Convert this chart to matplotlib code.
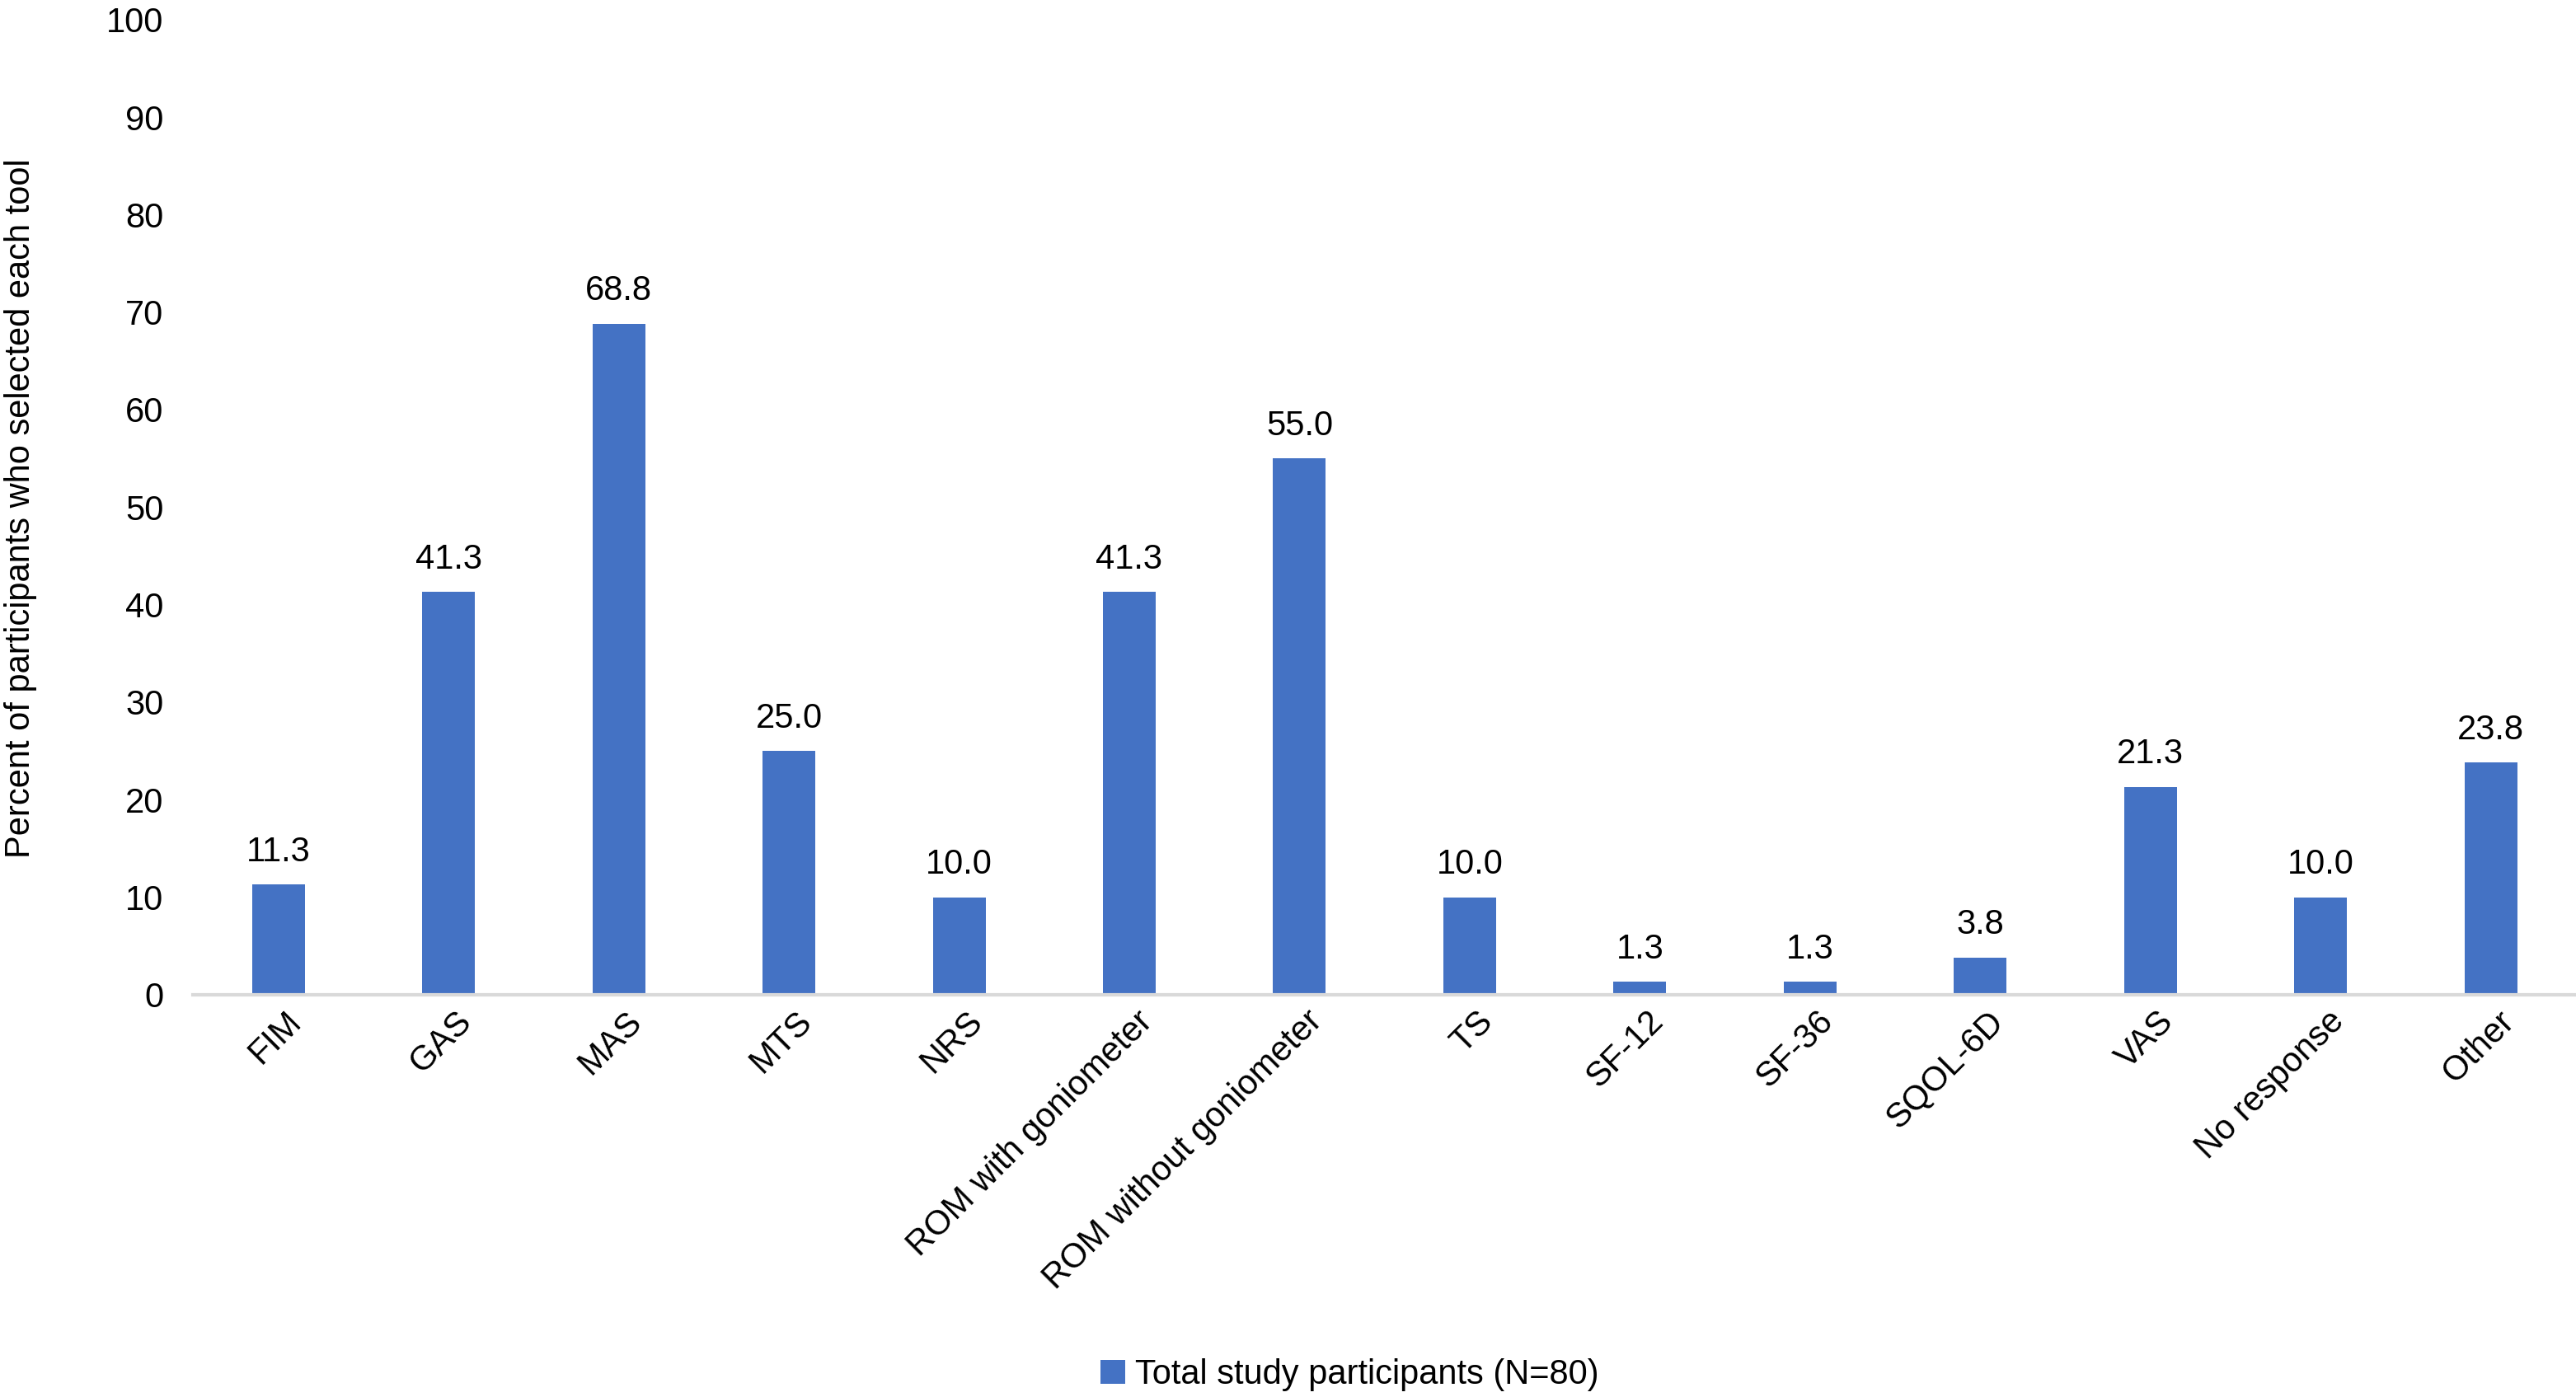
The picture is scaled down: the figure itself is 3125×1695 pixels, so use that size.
import numpy as np
import matplotlib
matplotlib.use('Agg')
import matplotlib.pyplot as plt
from matplotlib.patches import Patch
from matplotlib.transforms import ScaledTranslation

plt.rcParams['font.family'] = ['Liberation Sans', 'DejaVu Sans']

# Tools selected by participants
tools = ['FIM', 'GAS', 'MAS', 'MTS', 'NRS', 'ROM with goniometer',
         'ROM without goniometer', 'TS', 'SF-12', 'SF-36', 'SQOL-6D',
         'VAS', 'No response', 'Other']
percent = [11.3, 41.3, 68.8, 25.0, 10.0, 41.3, 55.0, 10.0, 1.3, 1.3, 3.8,
           21.3, 10.0, 23.8]
y_ticks = [0, 10, 20, 30, 40, 50, 60, 70, 80, 90, 100]
series_name = 'Total study participants (N=80)'

bar_color = '#4472C4'
fs = 30

fig = plt.figure(figsize=(31.25, 16.95), dpi=100)
ax = fig.add_axes([0.075, 0.288, 0.925, 0.698])

x = np.arange(len(tools))
bars = ax.bar(x, percent, width=0.31, color=bar_color)

# value labels above bars
for rect, v in zip(bars, percent):
    ax.annotate(f'{v:.1f}', (rect.get_x() + rect.get_width() / 2, v),
                xytext=(0, 14), textcoords='offset points',
                ha='center', va='bottom', fontsize=fs)

ax.set_xlim(-0.5, len(tools) - 0.5)
ax.set_ylim(0, 100)
ax.set_yticks(y_ticks)
ax.tick_params(axis='y', length=0, labelsize=fs, pad=26)
ax.tick_params(axis='x', length=0, labelsize=fs, pad=6)
ax.set_xticks(x)
ax.set_xticklabels(tools, rotation=45, ha='right', va='center',
                   rotation_mode='anchor')
offset = ScaledTranslation(0.22, -0.18, fig.dpi_scale_trans)
for lbl in ax.get_xticklabels():
    lbl.set_transform(lbl.get_transform() + offset)

for side in ['top', 'right', 'left']:
    ax.spines[side].set_visible(False)
ax.spines['bottom'].set_color('#D9D9D9')
ax.spines['bottom'].set_linewidth(3)

fig.text(0.008, 0.636, 'Percent of participants who selected each tool',
         rotation=90, ha='center', va='center', fontsize=fs)

handle = Patch(facecolor=bar_color, label=series_name)
fig.legend(handles=[handle], loc='center', bbox_to_anchor=(0.524, 0.016),
           frameon=False, fontsize=fs, handlelength=0.7, handleheight=0.7,
           handletextpad=0.3)

fig.savefig('out.png', dpi=100)
